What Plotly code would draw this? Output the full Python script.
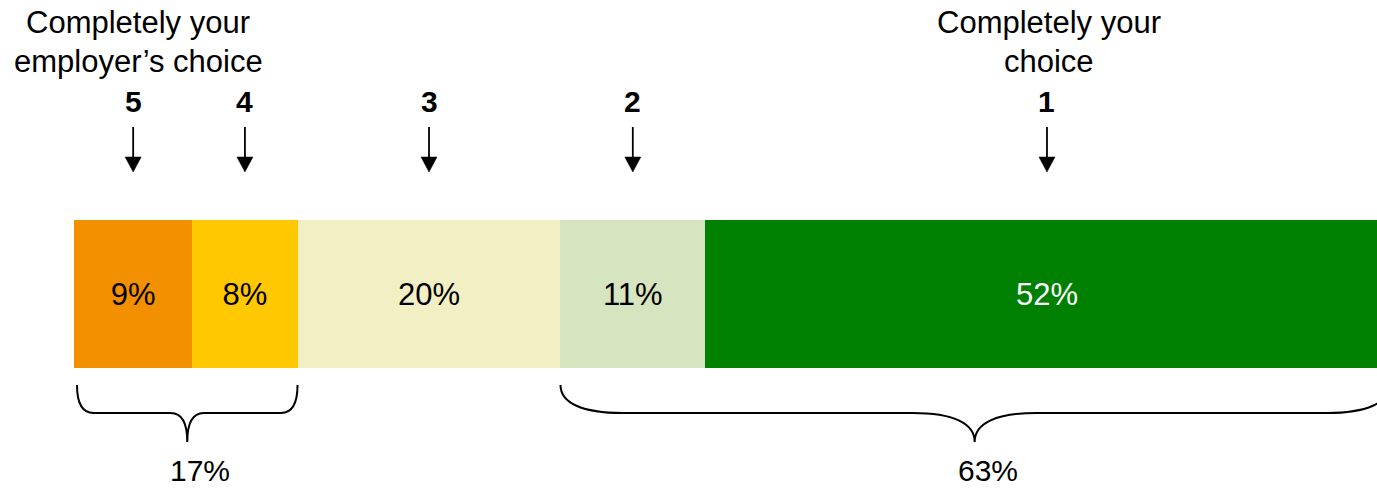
import plotly.graph_objects as go

# ---- data ----
scale_labels = ["5", "4", "3", "2", "1"]
shares = [9, 8, 20, 11, 52]
colors = ["#F39000", "#FFC800", "#F2EFC5", "#D7E4C0", "#008000"]
text_colors = ["black", "black", "black", "black", "white"]
left_label = ["Completely your", "employer\u2019s choice"]
right_label = ["Completely your", "choice"]
group_low = {"label": "17%", "members": [0, 1]}
group_high = {"label": "63%", "members": [3, 4]}

# ---- layout geometry (pixels) ----
W, H = 1377, 489
ML = 74
XMAX = 99.1
PX = (W - ML) / XMAX  # pixels per percentage point
FONT = "Arial, Liberation Sans, sans-serif"

fig = go.Figure()

starts = []
acc = 0
for v in shares:
    starts.append(acc)
    acc += v
centers = [s + v / 2 for s, v in zip(starts, shares)]

for lab, v, c, tc in zip(scale_labels, shares, colors, text_colors):
    fig.add_trace(go.Bar(
        x=[v], y=[294], width=148, orientation="h",
        marker=dict(color=c, line=dict(width=0)),
        text=[f"{v}%"], textposition="inside", insidetextanchor="middle",
        textfont=dict(size=31, color=tc, family=FONT),
        hoverinfo="skip", name=lab,
    ))

shapes = []
annotations = []

# arrows + scale numbers
hw = 8 / PX
for lab, cx in zip(scale_labels, centers):
    shapes.append(dict(type="line", xref="x", yref="y", x0=cx, x1=cx, y0=127, y1=160,
                       line=dict(color="black", width=1.8)))
    shapes.append(dict(type="path", xref="x", yref="y",
                       path=f"M {cx-hw},157 L {cx+hw},157 L {cx},172 Z",
                       fillcolor="black", line=dict(color="black", width=0.5)))
    annotations.append(dict(x=cx, y=101, xref="x", yref="y", text=f"<b>{lab}</b>",
                            showarrow=False, font=dict(size=30, color="black", family=FONT),
                            xanchor="center", yanchor="middle"))

# top end labels
for lines, idx, shift in ((left_label, 0, 5), (right_label, 4, 2)):
    for i, t in enumerate(lines):
        annotations.append(dict(x=centers[idx], y=22 + 39 * i, xref="x", yref="y", text=t,
                                showarrow=False, xshift=shift,
                                font=dict(size=31, color="black", family=FONT),
                                xanchor="center", yanchor="middle"))


def brace(a, b):
    w = b - a
    c = 0.075 * w
    m = (a + b) / 2
    y0, y1, y2 = 385, 413, 442
    return (f"M {a},{y0} C {a},{y0+18} {a+0.35*c},{y1} {a+c},{y1} "
            f"L {m-c},{y1} C {m-0.35*c},{y1} {m},{y1+10} {m},{y2} "
            f"C {m},{y1+10} {m+0.35*c},{y1} {m+c},{y1} "
            f"L {b-c},{y1} C {b-0.35*c},{y1} {b},{y0+18} {b},{y0}")


for grp, inset in ((group_low, 3 / PX), (group_high, 0)):
    i0, i1 = grp["members"][0], grp["members"][-1]
    a = starts[i0] + inset
    b = starts[i1] + shares[i1]
    shapes.append(dict(type="path", xref="x", yref="y", path=brace(a, b),
                       line=dict(color="black", width=2)))
    annotations.append(dict(x=(a + b) / 2, y=470, xref="x", yref="y", text=grp["label"],
                            showarrow=False, xshift=13,
                            font=dict(size=30, color="black", family=FONT),
                            xanchor="center", yanchor="middle"))

fig.update_layout(
    barmode="stack", width=W, height=H,
    margin=dict(l=ML, r=0, t=0, b=0),
    paper_bgcolor="white", plot_bgcolor="white",
    showlegend=False, shapes=shapes, annotations=annotations,
    xaxis=dict(range=[0, XMAX], visible=False, fixedrange=True),
    yaxis=dict(range=[H, 0], visible=False, fixedrange=True),
)

fig.write_html("out.html")
